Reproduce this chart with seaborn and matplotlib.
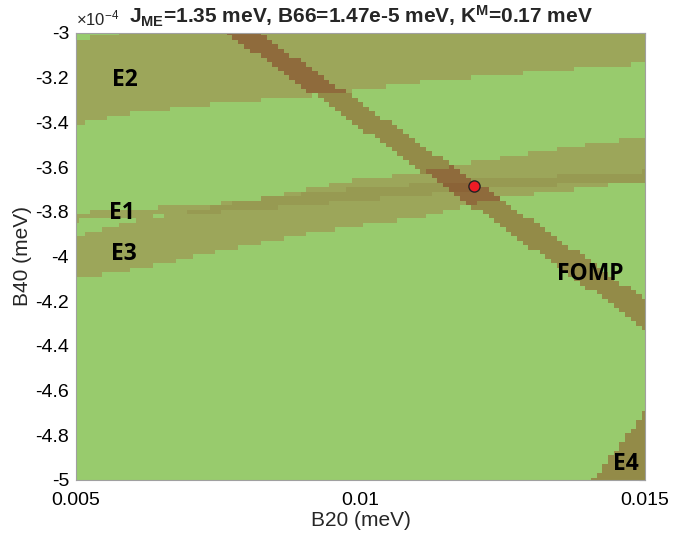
import numpy as np
import matplotlib
matplotlib.use("Agg")
import matplotlib.pyplot as plt
from matplotlib.colors import ListedColormap, BoundaryNorm
from matplotlib.ticker import FuncFormatter, FixedLocator
import seaborn as sns

# B20 grid (meV) and B40 grid (in units of 1e-4 meV)
b20 = np.linspace(0.005, 0.015, 101)
b40 = np.linspace(-5.0, -3.0, 101)

# region edges: x = B20, y = B40 * 1e4
e2_top_x = [0.005, 0.0053, 0.0061, 0.015]
e2_top_y = [-3.040, -3.013, -2.990, -2.900]
e2_bot_x = [0.005, 0.0059, 0.0067, 0.00758, 0.00924, 0.0100, 0.01082, 0.0124, 0.01409, 0.015]
e2_bot_y = [-3.410, -3.362, -3.337, -3.315, -3.279, -3.256, -3.225, -3.189, -3.153, -3.135]

e1_top_x = [0.005, 0.00741, 0.00982, 0.01245, 0.015]
e1_top_y = [-3.804, -3.764, -3.697, -3.652, -3.620]
e1_bot_x = [0.005, 0.00741, 0.00982, 0.01245, 0.015]
e1_bot_y = [-3.840, -3.804, -3.751, -3.692, -3.661]

e3_top_x = [0.005, 0.00609, 0.00753, 0.00982, 0.01105, 0.01236, 0.01351, 0.015]
e3_top_y = [-3.908, -3.840, -3.773, -3.661, -3.625, -3.562, -3.517, -3.463]
e3_bot_x = [0.005, 0.00613, 0.00736, 0.00859, 0.00999, 0.01105, 0.01245, 0.01351, 0.015]
e3_bot_y = [-4.097, -4.052, -3.984, -3.921, -3.863, -3.827, -3.737, -3.706, -3.661]

fomp_top_x = [0.005, 0.015]
fomp_top_y = [-2.432, -4.191]
fomp_bot_x = [0.005, 0.015]
fomp_bot_y = [-2.524, -4.321]

e4_top_x = [0.005, 0.015]
e4_top_y = [-8.04, -4.694]

# chosen parameter point
point_b20 = [0.0120]
point_b40 = [-3.685]

labels = ["E2", "E1", "E3", "FOMP", "E4"]
label_x = [0.00586, 0.00580, 0.00585, 0.01403, 0.01466]
label_y = [-3.21, -3.805, -3.99, -4.08, -4.93]

region_colors = ["#98cb6d", "#9ca65a", "#979a52", "#938b48", "#8f6b3c", "#8b6337"]

X, Y = np.meshgrid(b20, b40)


def band(bot_x, bot_y, top_x, top_y):
    lo = np.interp(X, bot_x, bot_y)
    hi = np.interp(X, top_x, top_y)
    return (Y >= lo) & (Y <= hi)


e1 = band(e1_bot_x, e1_bot_y, e1_top_x, e1_top_y)
e2 = band(e2_bot_x, e2_bot_y, e2_top_x, e2_top_y)
e3 = band(e3_bot_x, e3_bot_y, e3_top_x, e3_top_y)
fomp = band(fomp_bot_x, fomp_bot_y, fomp_top_x, fomp_top_y)
e4 = Y <= np.interp(X, e4_top_x, e4_top_y)

n_e = e1.astype(int) + e2.astype(int) + e3.astype(int)
code = np.where(fomp, 3 + n_e, n_e)
code = np.where(e4, 3, code)
code = np.clip(code, 0, 5)

sns.set_style("white")
plt.rcParams["font.family"] = ["Liberation Sans", "DejaVu Sans"]
plt.rcParams["mathtext.default"] = "regular"

fig = plt.figure(figsize=(6.73, 5.39), dpi=100)
ax = fig.add_axes([0.1129, 0.1095, 0.8455, 0.8293])

cmap = ListedColormap(region_colors)
norm = BoundaryNorm(np.arange(-0.5, 6.5, 1), cmap.N)
ax.pcolormesh(b20, b40, code, cmap=cmap, norm=norm, shading="nearest")

sns.scatterplot(x=point_b20, y=point_b40, ax=ax, s=65, color="#ee1c25",
                edgecolor="#222222", linewidth=1.0, zorder=5, legend=False)

for t, lx, ly in zip(labels, label_x, label_y):
    ax.text(lx, ly, t, fontsize=16.5, fontweight="bold", family="Open Sans",
            ha="center", va="center", color="black")

ax.set_xlim(0.005, 0.015)
ax.set_ylim(-5, -3)
ax.xaxis.set_major_locator(FixedLocator([0.005, 0.01, 0.015]))
ax.yaxis.set_major_locator(FixedLocator(np.arange(-5, -2.9, 0.2)))
ax.xaxis.set_major_formatter(FuncFormatter(lambda v, p: f"{v:g}"))
ax.yaxis.set_major_formatter(FuncFormatter(lambda v, p: f"{round(v, 1):g}"))

ax.tick_params(direction="in", length=4, color="#8c8c8c", labelsize=14,
               top=True, right=True, labelcolor="black")
ax.tick_params(axis="x", pad=9)
ax.tick_params(axis="y", pad=5)
for s in ax.spines.values():
    s.set_color("#a0a0a0")
    s.set_linewidth(0.8)

ax.set_xlabel("B20 (meV)", fontsize=15, labelpad=1)
ax.set_ylabel("B40 (meV)", fontsize=15, labelpad=2)
ax.set_title(r"J$_{ME}$=1.35 meV, B66=1.47e-5 meV, K$^{M}$=0.17 meV",
             fontsize=15, fontweight="bold", pad=7, x=0.5)
ax.text(0.0, 1.01, r"$\times10^{-4}$", transform=ax.transAxes,
        fontsize=12, ha="left", va="bottom")

fig.savefig("out.png", dpi=100)
plt.close(fig)
